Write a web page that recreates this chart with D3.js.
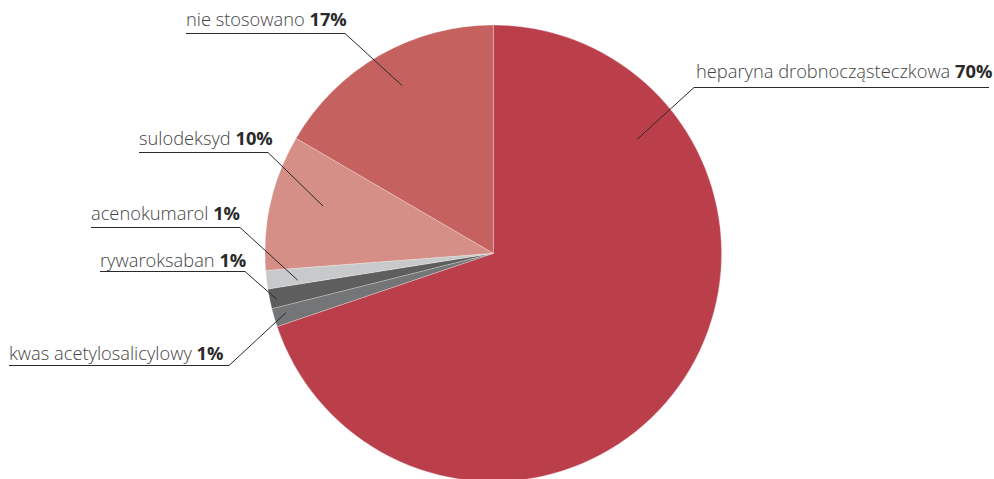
<!DOCTYPE html>
<html><head><meta charset="utf-8">
<script src="https://cdn.jsdelivr.net/npm/d3@7"></script>
<style>body{margin:0;background:#fff}svg{display:block}</style>
</head><body>
<svg id="c" width="994" height="479"></svg>
<script>
const categories = ["heparyna drobnocząsteczkowa","kwas acetylosalicylowy","rywaroksaban","acenokumarol","sulodeksyd","nie stosowano"];
const values = [69.8, 1.3, 1.4, 1.3, 9.6, 16.6];
const percentLabels = ["70%","1%","1%","1%","10%","17%"];
const colors = ["#bb3f4b","#747577","#5e5e5f","#c8c9ca","#d58f87","#c5625f"];

// label layout: anchor inside slice (angle deg, radius fraction), elbow & line end (px)
const labelLayout = [
  {ang:51.6, rf:0.806, ex:694, ey:87.5, lx1:694, lx2:989, tx:696, ty:78},
  {ang:254,  rf:0.945, ex:229, ey:365.5, lx1:9, lx2:229, tx:9, ty:360},
  {ang:258,  rf:0.97,  ex:245, ey:271.5, lx1:100, lx2:245, tx:100, ty:267},
  {ang:262.2,rf:0.865, ex:240, ey:227.5, lx1:91, lx2:240, tx:91, ty:220},
  {ang:285.5,rf:0.774, ex:268, ey:152.5, lx1:139, lx2:268, tx:139, ty:145},
  {ang:331.5,rf:0.835, ex:345, ey:33.5, lx1:186, lx2:345, tx:186, ty:26}
];

const cx = 493.3, cy = 253.3, R = 228.3;
const svg = d3.select("#c");
const g = svg.append("g").attr("transform", `translate(${cx},${cy})`);
const pie = d3.pie().sort(null).value(d => d)(values);
const arc = d3.arc().innerRadius(0).outerRadius(R);
g.selectAll("path").data(pie).join("path")
  .attr("d", arc)
  .attr("fill", (d,i) => colors[i])
  .attr("stroke", "rgba(255,255,255,0.45)")
  .attr("stroke-width", 0.6);

const lab = svg.append("g");
labelLayout.forEach((L, i) => {
  const a = L.ang * Math.PI / 180;
  const px = cx + Math.sin(a) * R * L.rf, py = cy - Math.cos(a) * R * L.rf;
  lab.append("polyline")
    .attr("points", `${px},${py} ${L.ex},${L.ey} ${L.ex === L.lx1 ? L.lx2 : L.lx1},${L.ey}`)
    .attr("fill", "none").attr("stroke", "#2a2a2a").attr("stroke-width", 1);
  const t = lab.append("text").attr("x", L.tx).attr("y", L.ty)
    .attr("font-family", "'Open Sans', sans-serif").attr("font-size", 18.3);
  t.append("tspan").attr("font-weight", 300).attr("fill", "#444").text(categories[i] + " ");
  t.append("tspan").attr("font-weight", 700).attr("fill", "#2a2a2a").text(percentLabels[i]);
});
</script>
</body></html>
